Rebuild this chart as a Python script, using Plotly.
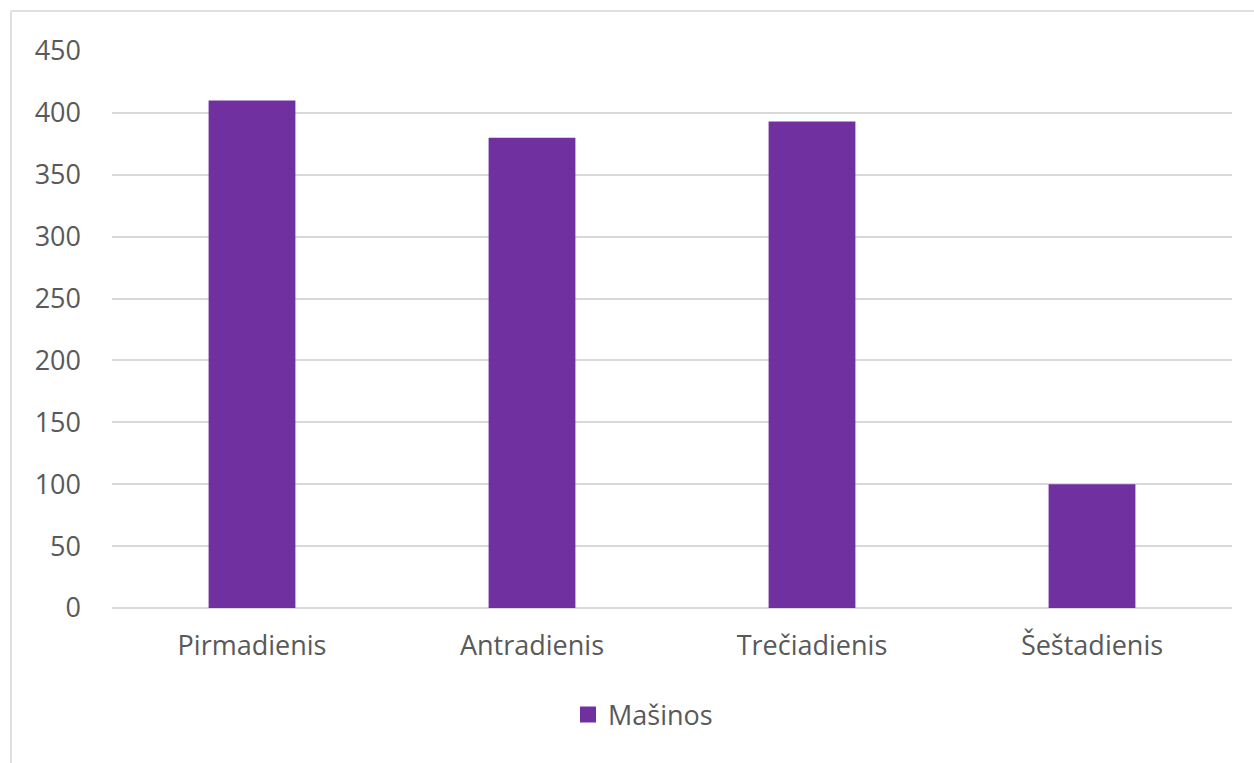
import plotly.graph_objects as go

days = ["Pirmadienis", "Antradienis", "Trečiadienis", "Šeštadienis"]
masinos = [410, 380, 393, 100]
y_ticks = [0, 50, 100, 150, 200, 250, 300, 350, 400, 450]
series_name = "Mašinos"

W, H = 1254, 763
L, R = 112, 22
T, B = 51, 155
pw, ph = W - L - R, H - T - B

def px_x(px):
    return (px - L) / pw

def px_y(py):
    return (H - B - py) / ph

FONT = "Open Sans"
TXT = "#595959"
BAR = "#7030A0"
GRID = "#d9d9d9"
FS = 27

fig = go.Figure()
fig.add_trace(go.Bar(x=days, y=masinos, name=series_name, marker=dict(color=BAR, line=dict(width=0)),
                     showlegend=False))
fig.add_trace(go.Scatter(x=[None], y=[None], mode="markers", name=series_name,
                         marker=dict(symbol="square", size=16, color=BAR), showlegend=True))

fig.update_layout(
    width=W, height=H,
    margin=dict(l=L, r=R, t=T, b=B, autoexpand=False),
    paper_bgcolor="white", plot_bgcolor="white",
    bargap=0.69,
    font=dict(family=FONT, size=FS, color=TXT),
    showlegend=True,
    legend=dict(orientation="h", x=px_x(643), xanchor="center", y=px_y(715), yanchor="middle",
                font=dict(family=FONT, size=FS, color=TXT), bgcolor="rgba(0,0,0,0)"),
    xaxis=dict(showgrid=False, showline=False, zeroline=False, ticks="",
               tickfont=dict(family=FONT, size=FS, color=TXT), ticklabelstandoff=19),
    yaxis=dict(range=[0, 450], tickvals=y_ticks, showgrid=True, gridcolor=GRID, gridwidth=1.8,
               zeroline=True, zerolinecolor=GRID, zerolinewidth=1.8, showline=False, ticks="",
               tickfont=dict(family=FONT, size=FS, color=TXT), ticklabelstandoff=30),
    shapes=[
        dict(type="line", xref="paper", yref="paper", x0=px_x(11), x1=px_x(1260), y0=px_y(11), y1=px_y(11),
             line=dict(color="#e0e0e0", width=2), layer="below"),
        dict(type="line", xref="paper", yref="paper", x0=px_x(11), x1=px_x(11), y0=px_y(11), y1=px_y(770),
             line=dict(color="#e0e0e0", width=2), layer="below"),
    ],
)

fig.write_html("out.html")
